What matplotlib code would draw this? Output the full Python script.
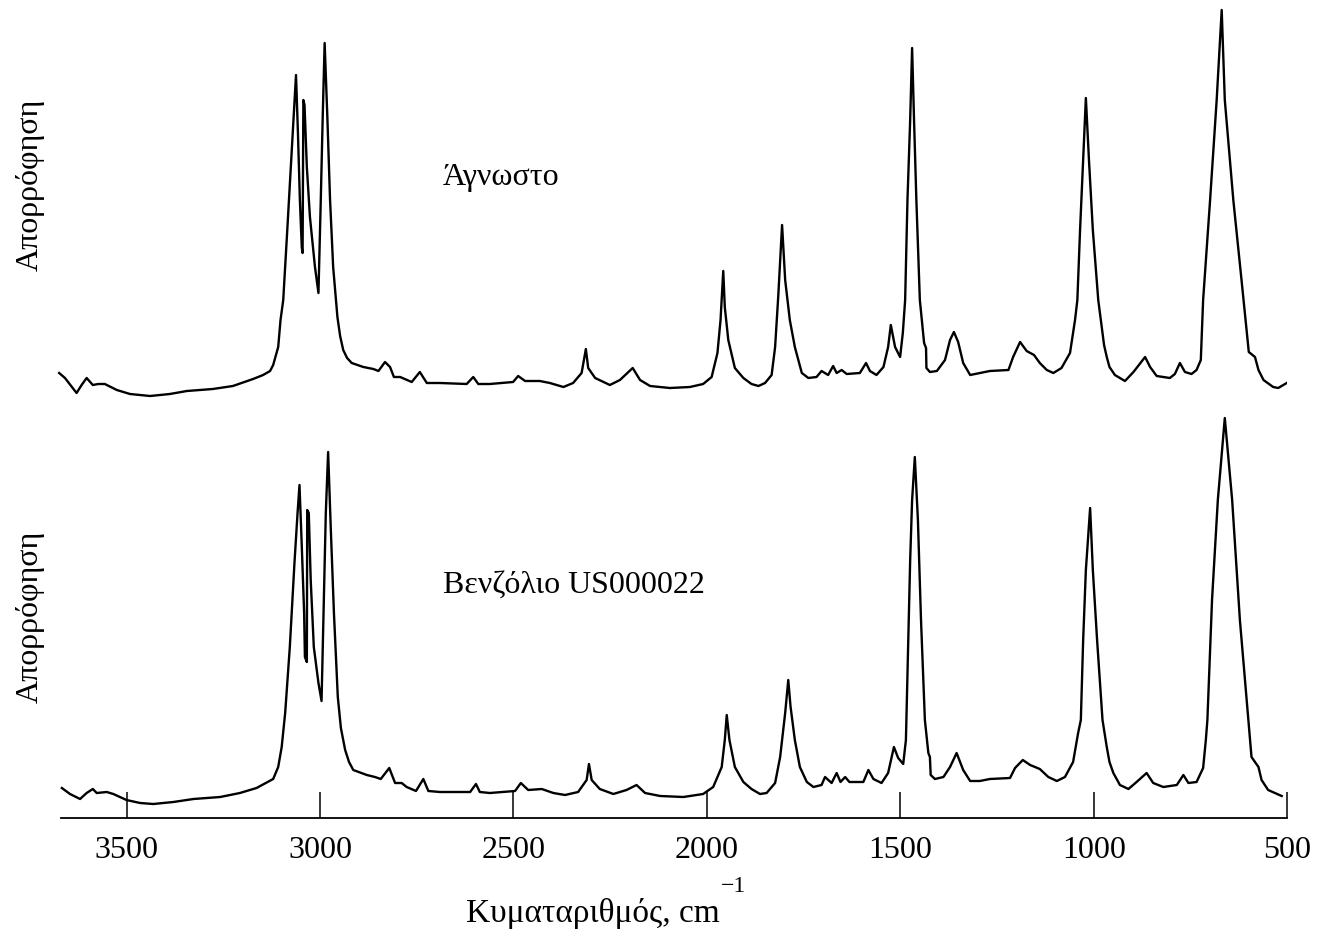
import numpy as np
import matplotlib.pyplot as plt

plt.rcParams['font.family'] = ['Liberation Serif', 'DejaVu Serif']

# Άγνωστο: κυματαριθμός (cm-1) και απορρόφηση (αυθαίρετες μονάδες)
wn_unknown = [3674, 3659, 3629, 3616, 3603, 3587, 3573, 3556, 3525, 3491, 3439, 3388, 3344,
              3277, 3225, 3173, 3147, 3129, 3121, 3108, 3102, 3095, 3085, 3073, 3066, 3062,
              3057, 3052, 3047, 3045, 3043, 3040, 3034, 3026, 3013, 3004, 2998, 2993, 2988,
              2981, 2974, 2966, 2955, 2948, 2940, 2930, 2918, 2888, 2862, 2849, 2832, 2819,
              2809, 2793, 2763, 2742, 2724, 2690, 2621, 2604, 2591, 2561, 2501, 2488, 2470,
              2432, 2406, 2371, 2346, 2324, 2313, 2307, 2289, 2251, 2225, 2192, 2173, 2147,
              2096, 2044, 2010, 1988, 1973, 1965, 1958, 1954, 1945, 1928, 1906, 1885, 1867,
              1850, 1833, 1824, 1816, 1806, 1798, 1786, 1773, 1755, 1738, 1717, 1704, 1687,
              1674, 1665, 1652, 1639, 1605, 1589, 1579, 1562, 1544, 1532, 1525, 1514, 1501,
              1494, 1488, 1482, 1475, 1470, 1465, 1459, 1450, 1443, 1439, 1434, 1433, 1424,
              1406, 1385, 1372, 1362, 1351, 1338, 1320, 1295, 1269, 1221, 1209, 1191, 1174,
              1155, 1140, 1122, 1105, 1084, 1062, 1049, 1043, 1036, 1028, 1021, 1013, 1003,
              989, 980, 974, 967, 960, 946, 920, 898, 868, 855, 838, 821, 804, 791, 778, 765,
              748, 735, 724, 718, 700, 683, 670, 662, 640, 618, 600, 584, 575, 562, 537, 524,
              502, 481]
ab_unknown = [27, 22, 7, 15, 22, 15, 16, 16, 10, 6, 4, 6, 9,
              11, 14, 21, 25, 29, 35, 53, 80, 100, 167, 250, 300, 325,
              267, 200, 152, 147, 300, 295, 233, 183, 133, 107, 200, 283, 357,
              283, 200, 133, 83, 64, 50, 42, 37, 33, 31, 29, 38, 33,
              23, 23, 18, 28, 17, 17, 16, 23, 16, 16, 18, 24, 19,
              19, 17, 13, 17, 27, 51, 32, 22, 15, 20, 32, 20, 14,
              12, 13, 16, 23, 47, 80, 129, 93, 60, 32, 22, 16, 14,
              17, 25, 53, 103, 175, 120, 80, 53, 27, 22, 23, 29, 25,
              34, 27, 30, 26, 27, 37, 29, 25, 33, 53, 75, 53, 43,
              67, 100, 200, 280, 352, 280, 200, 100, 73, 57, 52, 32, 28,
              29, 40, 60, 68, 58, 37, 25, 27, 29, 30, 43, 58, 49,
              45, 37, 30, 27, 32, 47, 80, 100, 170, 240, 302, 240, 170,
              100, 73, 55, 43, 33, 25, 19, 28, 43, 33, 24, 23, 22, 26, 37, 28,
              26, 30, 40, 100, 200, 300, 390, 300, 200, 117, 48, 43, 30, 20, 13, 12,
              17, 22]

# Βενζόλιο US000022
wn_benzene = [3667, 3646, 3620, 3603, 3587, 3577, 3551, 3534, 3500, 3465, 3431, 3379, 3327,
              3258, 3207, 3164, 3121, 3108, 3099, 3090, 3078, 3066, 3058, 3053, 3047, 3041,
              3039, 3034, 3033, 3029, 3024, 3016, 3004, 2996, 2990, 2985, 2979, 2972, 2964,
              2954, 2946, 2935, 2925, 2914, 2879, 2858, 2843, 2821, 2806, 2789, 2776, 2752,
              2733, 2720, 2690, 2612, 2597, 2587, 2561, 2496, 2481, 2462, 2427, 2397, 2367,
              2333, 2311, 2305, 2298, 2277, 2242, 2208, 2182, 2160, 2121, 2061, 2010, 1984,
              1962, 1954, 1949, 1942, 1928, 1906, 1885, 1863, 1846, 1824, 1811, 1798, 1790,
              1784, 1773, 1760, 1742, 1725, 1704, 1695, 1678, 1665, 1655, 1643, 1632, 1596,
              1583, 1570, 1549, 1532, 1517, 1506, 1493, 1486, 1480, 1475, 1470, 1463, 1455,
              1447, 1437, 1428, 1424, 1422, 1411, 1389, 1372, 1355, 1338, 1320, 1295, 1269,
              1217, 1204, 1184, 1165, 1140, 1118, 1096, 1075, 1054, 1041, 1034, 1028, 1021,
              1010, 1003, 992, 978, 967, 960, 950, 933, 911, 890, 864, 847, 821, 786, 769,
              756, 735, 718, 711, 707, 695, 680, 662, 643, 623, 601, 593, 584, 575, 567,
              550, 515]
ab_benzene = [30, 24, 19, 25, 29, 25, 26, 24, 18, 15, 14, 16, 19,
              21, 25, 30, 39, 51, 71, 105, 171, 255, 305, 333, 271, 205,
              161, 156, 308, 305, 238, 171, 135, 117, 221, 305, 366, 288, 205,
              121, 90, 68, 56, 48, 43, 41, 39, 50, 35, 35, 31, 27,
              39, 27, 26, 26, 34, 26, 25, 27, 35, 28, 29, 25, 23,
              26, 38, 54, 38, 29, 24, 28, 33, 25, 22, 21, 24, 31,
              51, 78, 103, 78, 51, 36, 29, 24, 25, 35, 61, 105, 138,
              111, 78, 51, 36, 31, 33, 41, 35, 45, 36, 41, 36, 36,
              48, 39, 35, 45, 71, 60, 54, 78, 178, 258, 318, 361, 298,
              198, 98, 65, 61, 43, 39, 41, 51, 65, 48, 37, 37, 39,
              40, 50, 58, 53, 49, 41, 37, 41, 56, 85, 98, 178, 248,
              310, 248, 178, 98, 71, 56, 45, 33, 29, 36, 45, 35, 31, 33, 43,
              35, 36, 50, 78, 98, 218, 318, 400, 318, 198, 98, 61, 56, 51, 38,
              28, 22]

labels = ['Άγνωστο', 'Βενζόλιο US000022']
xticks = [3500, 3000, 2500, 2000, 1500, 1000, 500]

W, H = 1321, 936
x_left, x_right = 3680, 500
px_left = 320 - (x_left - 3000) / 2.584
px_right = 320 + (3000 - x_right) / 2.584

fig = plt.figure(figsize=(W / 100, H / 100), dpi=100)
ax_top = fig.add_axes([px_left / W, 1 - 400 / H, (px_right - px_left) / W, 400 / H])
ax_bot = fig.add_axes([px_left / W, 1 - 818 / H, (px_right - px_left) / W, 408 / H])

ax_top.plot(wn_unknown, ab_unknown, color='black', lw=1.7)
ax_bot.plot(wn_benzene, ab_benzene, color='black', lw=1.7)

for ax, top in zip([ax_top, ax_bot], [400, 408]):
    ax.set_xlim(x_left, x_right)
    ax.set_ylim(0, top)
    ax.set_yticks([])
    for s in ['top', 'right', 'left']:
        ax.spines[s].set_visible(False)

ax_top.spines['bottom'].set_visible(False)
ax_top.set_xticks([])

ax_bot.spines['bottom'].set_bounds(x_right, 3668)
ax_bot.spines['bottom'].set_linewidth(1.3)
ax_bot.set_xticks(xticks)
ax_bot.set_xticklabels([str(t) for t in xticks])
ax_bot.tick_params(axis='x', direction='in', length=18.5, width=1.1, pad=13, labelsize=23)

fig.text(443 / W, 1 - 178 / H, labels[0], fontsize=23, ha='left', va='center')
fig.text(443 / W, 1 - 585 / H, labels[1], fontsize=23, ha='left', va='center')
fig.text(30 / W, 1 - 185 / H, 'Απορρόφηση', fontsize=23, rotation=90, ha='center', va='center')
fig.text(30 / W, 1 - 617 / H, 'Απορρόφηση', fontsize=23, rotation=90, ha='center', va='center')
fig.text(466 / W, 1 - 922 / H, 'Κυματαριθμός, cm', fontsize=24, ha='left', va='baseline')
fig.text(721 / W, 1 - 892 / H, '\u22121', fontsize=17, ha='left', va='baseline')

fig.savefig('out.png', dpi=100)
